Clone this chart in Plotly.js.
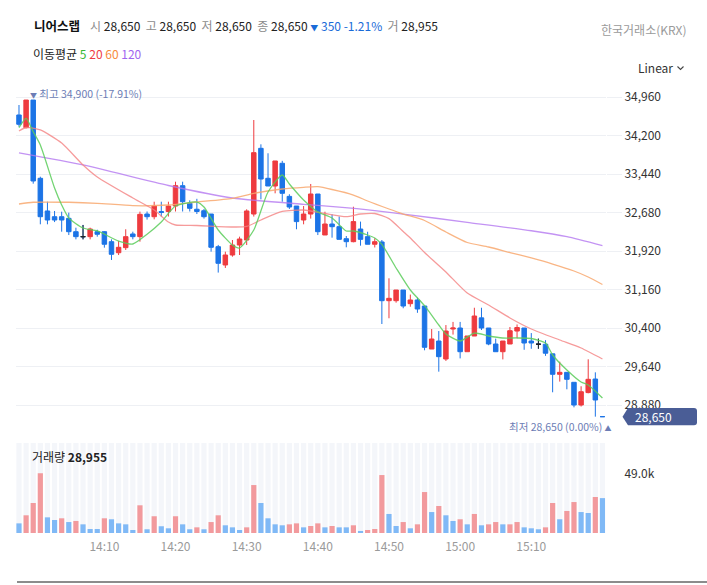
<!DOCTYPE html>
<html><head><meta charset="utf-8">
<script src="https://cdn.plot.ly/plotly-3.0.1.min.js"></script>
<style>html,body{margin:0;padding:0;background:#fff}#chart{width:707px;height:585px}</style>
</head><body><div id="chart"></div>
<script>
// ---------- data ----------
const stockName = '니어스랩';
const exchangeName = '한국거래소(KRX)';
const tradeDate = [2024, 0, 2];
const startTime = '13:58';
const headerLabels = ['시', '고', '저', '종'];
const headerValues = [28650, 28650, 28650, 28650];
const changeValue = 350;
const changePct = -1.21;
const totalVolLabel = '거';
const totalVolume = 28955;
const maLabel = '이동평균';
const maPeriods = ['5', '20', '60', '120'];
const highMark = 34900, highPct = -17.91;
const lowMark = 28650, lowPct = 0.00;
const lastPrice = 28650;
const volumeLabel = '거래량';
const lastVolume = 28955;
const scaleLabel = 'Linear';

const open = [34605,34354,34900,33355,32710,32597,32597,32565,32301,32203,
  32203,32301,32301,32104,31886,31986,32256,32203,32650,32597,
  32700,32700,32808,33209,32862,32744,32715,32650,32005,31644,
  31841,32038,32137,32650,33947,33355,33203,33651,32998,32808,
  32532,32650,33045,32236,32453,32400,32163,32104,32354,32203,
  32053,32098,30939,30939,31150,30880,30953,30834,29985,30143,
  29788,30380,30400,29932,30242,30600,30400,30084,29932,30084,
  30340,30400,30143,30080,30080,29890,29486,29525,29328,28880,
  29125,29393,28650];
const high = [34802,34900,34900,33387,32893,32710,32696,32677,32380,32434,
  32380,32340,32310,32150,32120,32349,32301,32697,32700,32893,
  32893,32893,33288,33288,32920,32950,32750,32650,32040,31907,
  32137,32203,32743,34506,34026,33849,33697,33700,33040,32808,
  32808,33243,33045,32696,32644,32600,32216,32794,32500,32300,
  32170,32137,31381,31150,31150,31060,31000,30834,30380,30340,
  30458,30520,30520,30242,30800,30800,30400,30190,30143,30420,
  30470,30400,30300,30190,30160,29890,29735,29525,29328,29250,
  29782,29525,28650];
const low = [34374,34340,33249,32447,32447,32491,32301,32235,32150,32150,
  32150,32203,31986,31743,31840,31940,32150,32104,32540,32545,
  32600,32600,32700,32700,32700,32650,32560,31907,31494,31585,
  31808,31841,32038,32600,32940,33203,33059,32893,32750,32349,
  32447,32560,32235,32236,32183,32150,31993,32092,32025,32053,
  31990,30479,30592,30900,30790,30820,30700,29960,29985,29538,
  29750,30270,29800,29932,30242,30360,30060,29932,29780,30084,
  30200,29970,29990,29990,29850,29131,29342,29190,28834,28850,
  29111,28650,28650];
const close = [34421,34900,33302,32597,32532,32532,32532,32301,32203,32203,
  32354,32250,32053,31855,31993,32203,32203,32644,32597,32808,
  32680,32808,33209,32893,32763,32700,32597,31993,31677,31841,
  32038,32157,32710,33861,33341,33203,33697,33059,32788,32500,
  32650,33045,32301,32453,32400,32150,32104,32500,32150,32053,
  32104,30939,30986,31150,30834,30953,30775,30019,30183,29834,
  30340,30400,29932,30242,30637,30400,30084,29932,30143,30347,
  30410,30104,30104,30080,29902,29486,29525,29387,28880,29142,
  29387,28979,28650];
const volume = [8000,14700,24900,49600,13000,10800,12200,9100,10000,7200,
  3300,3300,12200,11400,8000,7200,2500,23000,3100,13900,
  5600,3900,13900,7200,3100,4700,3100,9100,14700,6400,
  4700,2500,4700,39800,24900,12200,7200,6400,7200,8000,
  4700,5800,8000,4700,5800,4700,4700,6400,1700,2500,
  3300,48100,15800,5800,9100,3900,7200,34000,17400,22400,
  14700,10000,11400,7200,15800,6400,7200,9100,7200,7200,
  9100,4700,3900,3100,4700,24900,11400,18300,25700,17400,
  16600,29900,28955];
const volumeSide = ['b','r','r','r','b','b','r','b','r','b',
  'b','b','r','b','b','b','b','r','b','r',
  'b','b','r','b','b','r','b','r','r','b',
  'b','b','r','r','b','b','b','b','r','r',
  'b','r','r','b','r','b','b','r','b','r',
  'r','r','b','b','r','b','r','r','b','r',
  'b','b','r','b','r','b','r','r','b','r',
  'r','b','b','b','r','r','b','r','r','b',
  'b','r','b'];

const ma5Idx = [0,1,2,3,5,6,7,9,11,14,16,18,20,22,25,26,28,30,31,33,35,37,38,40,42,44,46,47,49,50,51,53,55,57,59,60,62,64,66,68,70,72,74,75,77,79,80,82];
const ma5Val = [34354,34540,34275,34012,33164,32828,32571,32374,32315,32117,32058,32250,32492,32808,32887,32790,32335,32039,31980,32335,33085,33420,33243,32927,32690,32571,32315,32315,32236,32177,32050,31585,31150,30840,30459,30282,30143,30301,30242,30203,30203,30193,30104,29867,29571,29334,29275,29018];
const ma20Idx = [0,1,3,6,9,11,16,19,21,22,25,30,32,34,37,40,43,46,48,50,52,54,55,57,60,63,66,69,72,76,79,82];
const ma20Val = [34289,34358,34309,34052,33618,33381,32966,32729,32492,32433,32423,32394,32404,32532,32700,32729,32660,32597,32650,32660,32560,32305,32177,31890,31506,31091,30854,30598,30380,30163,30005,29788];
const ma60Idx = [0,2,7,11,16,21,25,30,33,37,40,42,44,47,49,52,54,57,60,63,66,69,72,75,78,80,82];
const ma60Val = [32848,32882,32882,32862,32815,32828,32887,32960,33059,33144,33177,33189,33134,33025,32907,32749,32650,32522,32295,32088,31999,31890,31782,31663,31525,31407,31259];
const ma120Idx = [0,9,21,30,40,45,50,54,63,72,77,82];
const ma120Val = [33855,33618,33213,32966,32842,32788,32719,32650,32486,32320,32202,32025];

const priceTicks = [34960,34200,33440,32680,31920,31160,30400,29640,28880];
const timeTicks = ['14:10','14:20','14:30','14:40','14:50','15:00','15:10'];
const volumeTicks = [49000];
const volumeTickText = ['49.0k'];

// ---------- helpers ----------
const fmt = v => v.toLocaleString('en-US');
const [sh, sm] = startTime.split(':').map(Number);
const base = Date.UTC(tradeDate[0], tradeDate[1], tradeDate[2], sh, sm);
const tAt = i => base + i * 60000;
const times = open.map((_, i) => tAt(i));
const hm = s => { const [h, m] = s.split(':').map(Number); return Date.UTC(tradeDate[0], tradeDate[1], tradeDate[2], h, m); };

// layout geometry (pixels)
const W = 707, H = 585, ML = 16, MR = 101, MT = 85, MB = 52;
const PW = W - ML - MR, PH = H - MT - MB;
const PX = x => (x - ML) / PW;
const PY = y => (H - MB - y) / PH;

const RED = '#ee3b3f', BLUE = '#1c74e6';
const VRED = '#f29a9d', VBLUE = '#80b9f6';
const FONT = '"Noto Sans CJK KR", "Noto Sans", sans-serif';
const volMax = 74700;

const dojiI = open.map((o, i) => i).filter(i => open[i] === close[i] && high[i] > low[i]);

const traces = [
  { type: 'bar', x: times, y: times.map(() => volMax), yaxis: 'y2',
    marker: { color: '#f4f6fa' }, hoverinfo: 'skip', showlegend: false },
  { type: 'bar', x: times, y: volume, yaxis: 'y2',
    marker: { color: volumeSide.map(s => s === 'r' ? VRED : VBLUE) }, hoverinfo: 'skip', showlegend: false },
  { type: 'candlestick', x: times, open: open, high: high, low: low, close: close,
    increasing: { line: { color: RED, width: 1 }, fillcolor: RED },
    decreasing: { line: { color: BLUE, width: 1 }, fillcolor: BLUE },
    whiskerwidth: 0, hoverinfo: 'skip', showlegend: false },
  { type: 'candlestick', x: dojiI.map(tAt), open: dojiI.map(i => open[i]), high: dojiI.map(i => high[i]),
    low: dojiI.map(i => low[i]), close: dojiI.map(i => close[i]),
    increasing: { line: { color: '#222', width: 1 }, fillcolor: '#222' },
    decreasing: { line: { color: '#222', width: 1 }, fillcolor: '#222' },
    whiskerwidth: 0, hoverinfo: 'skip', showlegend: false },
];
const maDefs = [
  [ma120Idx, ma120Val, 'rgba(180,120,240,0.8)'],
  [ma60Idx, ma60Val, 'rgba(248,168,110,0.85)'],
  [ma20Idx, ma20Val, 'rgba(244,130,130,0.8)'],
  [ma5Idx, ma5Val, 'rgba(90,205,90,0.85)'],
];
maDefs.forEach(([idx, val, col]) => traces.push({
  type: 'scatter', mode: 'lines', x: idx.map(tAt), y: val,
  line: { color: col, width: 1.3, shape: 'spline', smoothing: 0.6 },
  hoverinfo: 'skip', showlegend: false }));

const grey = '#8c8c8c';
const headerText = headerLabels.map((l, i) =>
  `<span style="color:${grey}">${l}</span>\u00a0${fmt(headerValues[i])}`).join('\u00a0\u00a0') +
  `\u00a0<span style="color:#1a6bd8"><span style="font-size:8px">▼</span>\u00a0${fmt(changeValue)}\u00a0${changePct.toFixed(2)}%</span>` +
  `\u00a0\u00a0<span style="color:${grey}">${totalVolLabel}</span>\u00a0${fmt(totalVolume)}`;

const maColors = ['#35b935', '#ef3b45', '#f78b3c', '#a066f0'];
const maText = maLabel + '\u00a0' + maPeriods.map((p, i) => `<span style="color:${maColors[i]}">${p}</span>`).join('\u00a0');

const markColor = '#6c7db5';
const annotations = [
  { xref: 'paper', yref: 'paper', x: PX(32), y: PY(26), xanchor: 'left', yanchor: 'middle',
    text: `<b>${stockName}</b>`, showarrow: false, font: { size: 12.5, color: '#111', family: FONT } },
  { xref: 'paper', yref: 'paper', x: PX(88), y: PY(26), xanchor: 'left', yanchor: 'middle',
    text: headerText, showarrow: false, font: { size: 12, color: '#222', family: FONT } },
  { xref: 'paper', yref: 'paper', x: PX(689), y: PY(29), xanchor: 'right', yanchor: 'middle',
    text: exchangeName, showarrow: false, font: { size: 12, color: '#9a9a9a', family: FONT } },
  { xref: 'paper', yref: 'paper', x: PX(31), y: PY(53), xanchor: 'left', yanchor: 'middle',
    text: maText, showarrow: false, font: { size: 12, color: '#222', family: FONT } },
  { xref: 'paper', yref: 'paper', x: PX(636), y: PY(68), xanchor: 'left', yanchor: 'middle',
    text: scaleLabel, showarrow: false, font: { size: 12, color: '#333', family: FONT } },
  { xref: 'x', yref: 'y', x: tAt(1), y: highMark, xanchor: 'left', yanchor: 'bottom', xshift: 2, yshift: -3,
    text: `<span style="font-size:7px">▼</span>\u00a0최고\u00a0${fmt(highMark)}\u00a0(${highPct.toFixed(2)}%)`,
    showarrow: false, font: { size: 10.5, color: markColor, family: FONT } },
  { xref: 'x', yref: 'y', x: tAt(82), y: lowMark, xanchor: 'right', yanchor: 'top', xshift: 12, yshift: 0,
    text: `최저\u00a0${fmt(lowMark)}\u00a0(${lowPct.toFixed(2)}%)\u00a0<span style="font-size:7px">▲</span>`,
    showarrow: false, font: { size: 10.5, color: markColor, family: FONT } },
  { xref: 'paper', yref: 'y', x: PX(633), y: lastPrice, xanchor: 'left', yanchor: 'middle',
    text: fmt(lastPrice), showarrow: false, font: { size: 12, color: '#fff', family: FONT } },
  { xref: 'paper', yref: 'paper', x: PX(30), y: PY(456), xanchor: 'left', yanchor: 'middle',
    text: `${volumeLabel}\u00a0<b>${fmt(lastVolume)}</b>`, showarrow: false, font: { size: 12, color: '#222', family: FONT } },
];

// tag shape around last price (x in paper, y in price units)
const pxPerPrice = 19.74;
const hh = 8.7 * pxPerPrice;
const tag = `M ${PX(622.5)} ${lastPrice} L ${PX(628)} ${lastPrice + hh} L ${PX(694)} ${lastPrice + hh} ` +
  `Q ${PX(697)} ${lastPrice + hh} ${PX(697)} ${lastPrice + hh - 3 * pxPerPrice} L ${PX(697)} ${lastPrice - hh + 3 * pxPerPrice} ` +
  `Q ${PX(697)} ${lastPrice - hh} ${PX(694)} ${lastPrice - hh} L ${PX(628)} ${lastPrice - hh} Z`;

const shapes = [
  { type: 'path', xref: 'paper', yref: 'y', path: tag, fillcolor: '#4a5d96', line: { width: 0 } },
  { type: 'path', xref: 'paper', yref: 'paper',
    path: `M ${PX(677.5)} ${PY(66.5)} L ${PX(680.5)} ${PY(69.5)} L ${PX(683.5)} ${PY(66.5)}`,
    line: { color: '#444', width: 1.1 } },
  { type: 'line', xref: 'paper', yref: 'paper', x0: PX(17), x1: PX(707), y0: PY(582), y1: PY(582),
    line: { color: '#666', width: 1.5 } },
];

const layout = {
  width: W, height: H, margin: { l: ML, r: MR, t: MT, b: MB, pad: 0 },
  paper_bgcolor: '#fff', plot_bgcolor: 'rgba(0,0,0,0)',
  font: { family: FONT, size: 12, color: '#333' },
  showlegend: false, hovermode: false, dragmode: false,
  barmode: 'overlay', bargap: 0.27, boxgap: 0.3, boxgroupgap: 0.1,
  xaxis: {
    type: 'date', range: [tAt(-0.42), tAt(82.5)], domain: [0, 1], anchor: 'y2',
    tickvals: timeTicks.map(hm), ticktext: timeTicks, ticks: 'outside', ticklen: 3,
    tickcolor: 'rgba(0,0,0,0)', showgrid: false,
    zeroline: false, showline: false, tickfont: { size: 12, color: '#9a9a9a', family: FONT },
    rangeslider: { visible: false }, fixedrange: true,
  },
  yaxis: {
    domain: [PY(440), 1], range: [34960 - (440 - 97) * pxPerPrice, 34960 + (97 - MT) * pxPerPrice],
    side: 'right', tickvals: priceTicks, ticktext: priceTicks.map(fmt),
    showgrid: true, gridcolor: '#eef0f4', gridwidth: 1, zeroline: false, showline: false,
    ticks: 'outside', ticklen: 15, tickcolor: '#eef0f4', tickwidth: 1,
    tickfont: { size: 12, color: '#333', family: FONT }, fixedrange: true,
  },
  yaxis2: {
    domain: [0, PY(443)], range: [0, volMax], side: 'right', anchor: 'x',
    tickvals: volumeTicks, ticktext: volumeTickText, showgrid: false, zeroline: false, showline: false,
    ticks: 'outside', ticklen: 15, tickcolor: 'rgba(0,0,0,0)',
    tickfont: { size: 12, color: '#333', family: FONT }, fixedrange: true,
  },
  annotations: annotations, shapes: shapes,
};

Plotly.newPlot('chart', traces, layout, { staticPlot: true, displayModeBar: false });
</script></body></html>
